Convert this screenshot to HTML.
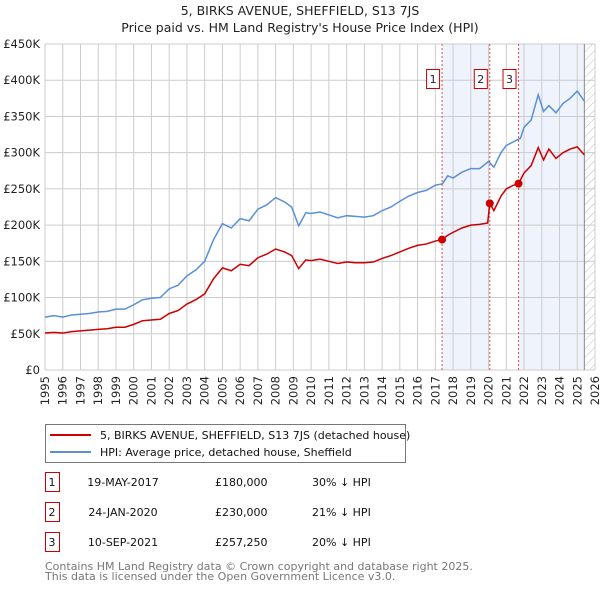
<!DOCTYPE html>
<html><head><meta charset="utf-8"><style>
body{margin:0;background:#fff;font-family:"DejaVu Sans","Liberation Sans",sans-serif;}
svg text{font-family:"DejaVu Sans","Liberation Sans",sans-serif;}
</style></head><body>
<svg id="chart" width="600" height="590" xmlns="http://www.w3.org/2000/svg">
<defs><pattern id="hatch" patternUnits="userSpaceOnUse" width="6" height="6" patternTransform="rotate(45)"><line x1="0" y1="0" x2="0" y2="6" stroke="#bbb" stroke-width="1"/></pattern></defs>
<text x="300" y="15" text-anchor="middle" font-size="12.5" fill="#222">5, BIRKS AVENUE, SHEFFIELD, S13 7JS</text>
<text x="300" y="32" text-anchor="middle" font-size="12.5" fill="#222">Price paid vs. HM Land Registry's House Price Index (HPI)</text>
<g id="grid"></g><g id="series"></g><g id="axes"></g>
<g>
<rect x="45.5" y="424.5" width="360" height="38" fill="#fff" stroke="#777"/>
<line x1="50" y1="435" x2="91" y2="435" stroke="#cc0000" stroke-width="2"/>
<text x="100" y="439" font-size="11" fill="#111">5, BIRKS AVENUE, SHEFFIELD, S13 7JS (detached house)</text>
<line x1="50" y1="452" x2="91" y2="452" stroke="#5b8fd6" stroke-width="2"/>
<text x="100" y="456" font-size="11" fill="#111">HPI: Average price, detached house, Sheffield</text>
</g>
<g id="table" font-size="11" fill="#111"></g>
<text x="45" y="570" font-size="11" fill="#777">Contains HM Land Registry data © Crown copyright and database right 2025.</text>
<text x="45" y="580" font-size="11" fill="#777">This data is licensed under the Open Government Licence v3.0.</text>
</svg>
<script>
const hpiYears=[1995,1995.5,1996,1996.5,1997,1997.5,1998,1998.5,1999,1999.5,2000,2000.5,2001,2001.5,2002,2002.5,2003,2003.5,2004,2004.5,2005,2005.5,2006,2006.5,2007,2007.5,2008,2008.5,2008.9,2009.3,2009.7,2010,2010.5,2011,2011.5,2012,2012.5,2013,2013.5,2014,2014.5,2015,2015.5,2016,2016.5,2017,2017.4,2017.7,2018,2018.5,2019,2019.5,2020,2020.3,2020.7,2021,2021.4,2021.8,2022,2022.4,2022.8,2023.1,2023.4,2023.8,2024.2,2024.6,2025,2025.4];
const hpiValues=[73000,75000,73000,76000,77000,78000,80000,81000,84000,84000,90000,97000,99000,100000,112000,117000,130000,138000,150000,180000,202000,196000,209000,206000,222000,228000,238000,232000,225000,199000,217000,216000,218000,214000,210000,213000,212000,211000,213000,220000,225000,233000,240000,245000,248000,255000,257000,268000,265000,273000,278000,278000,288000,280000,300000,310000,315000,320000,335000,345000,380000,357000,365000,355000,368000,375000,385000,371000];
const ppYears=[1995,1995.5,1996,1996.5,1997,1997.5,1998,1998.5,1999,1999.5,2000,2000.5,2001,2001.5,2002,2002.5,2003,2003.5,2004,2004.5,2005,2005.5,2006,2006.5,2007,2007.5,2008,2008.5,2008.9,2009.3,2009.7,2010,2010.5,2011,2011.5,2012,2012.5,2013,2013.5,2014,2014.5,2015,2015.5,2016,2016.5,2017,2017.38,2017.7,2018,2018.5,2019,2019.5,2019.95,2020.07,2020.3,2020.7,2021,2021.4,2021.69,2022,2022.4,2022.8,2023.1,2023.4,2023.8,2024.2,2024.6,2025,2025.4];
const ppValues=[51000,52000,51000,53000,54000,55000,56000,57000,59000,59000,63000,68000,69000,70000,78000,82000,91000,97000,105000,126000,141000,137000,146000,144000,155000,160000,167000,163000,158000,140000,152000,151000,153000,150000,147000,149000,148000,148000,149000,154000,158000,163000,168000,172000,174000,178000,180000,186000,190000,196000,200000,201000,203000,230000,220000,240000,250000,255000,257250,272000,282000,307000,290000,305000,292000,300000,305000,308000,297000];
const saleYears=[2017.38,2020.07,2021.69];
const saleValues=[180000,230000,257250];
const saleLabels=["1","2","3"];
const saleDates=["19-MAY-2017","24-JAN-2020","10-SEP-2021"];
const salePrices=["£180,000","£230,000","£257,250"];
const saleDiffs=["30% ↓ HPI","21% ↓ HPI","20% ↓ HPI"];
const yTicks=[0,50000,100000,150000,200000,250000,300000,350000,400000,450000];
const yTickLabels=["£0","£50K","£100K","£150K","£200K","£250K","£300K","£350K","£400K","£450K"];
const xTicks=[1995,1996,1997,1998,1999,2000,2001,2002,2003,2004,2005,2006,2007,2008,2009,2010,2011,2012,2013,2014,2015,2016,2017,2018,2019,2020,2021,2022,2023,2024,2025,2026];

const NS="http://www.w3.org/2000/svg";
const X0=45,X1=595,Y0=370,Y1=44;
const xs=y=>X0+(y-1995)/(2026-1995)*(X1-X0);
const ys=v=>Y0-v/450000*(Y0-Y1);
function mk(tag,attrs,parent){const e=document.createElementNS(NS,tag);for(const k in attrs)e.setAttribute(k,attrs[k]);parent.appendChild(e);return e;}
const grid=document.getElementById('grid'),ser=document.getElementById('series'),axes=document.getElementById('axes'),tbl=document.getElementById('table');
let r=mk('rect',{x:X0,y:Y1,width:X1-X0,height:Y0-Y1,fill:'#fff'},grid);


let s1=mk('rect',{x:xs(saleYears[0]),y:Y1,width:xs(2020.07)-xs(saleYears[0]),height:Y0-Y1,fill:'#eef3fc'},grid);


let s3=mk('rect',{x:xs(saleYears[2]),y:Y1,width:xs(2025.4)-xs(saleYears[2]),height:Y0-Y1,fill:'#eef3fc'},grid);


let ht=mk('rect',{x:xs(2025.4),y:Y1,width:X1-xs(2025.4),height:Y0-Y1,fill:'url(#hatch)'},grid);


xTicks.forEach(t=>{const l=mk('line',{x1:xs(t),x2:xs(t),y1:Y1,y2:Y0,stroke:'#cccccc','stroke-width':1},grid);


const tx=mk('text',{x:0,y:0,'font-size':11.5,fill:'#222','text-anchor':'end',transform:`translate(${xs(t)+4},376) rotate(-90)`},axes);tx.textContent=t;

});
yTicks.forEach((t,i)=>{const l=mk('line',{x1:X0,x2:X1,y1:ys(t),y2:ys(t),stroke:'#cccccc','stroke-width':1},grid);


const tx=mk('text',{x:40,y:ys(t)+4,'font-size':11.5,fill:'#222','text-anchor':'end'},axes);tx.textContent=yTickLabels[i];

});
let ed=mk('line',{x1:xs(2025.4),x2:xs(2025.4),y1:Y1,y2:Y0,stroke:'#888','stroke-width':1},grid);


saleYears.forEach((y,i)=>{const l=mk('line',{x1:xs(y),x2:xs(y),y1:Y1,y2:Y0,stroke:'#e05050','stroke-width':1,'stroke-dasharray':'2,2'},grid);


const b=mk('rect',{x:xs(y)-15.5,y:69.5,width:13,height:19,fill:'#fff',stroke:'#cc0000'},ser);


const t=mk('text',{x:xs(y)-9,y:83,'font-size':11,'text-anchor':'middle',fill:'#222'},ser);t.textContent=saleLabels[i];

});
const hp=mk('polyline',{points:hpiYears.map((y,i)=>xs(y)+','+ys(hpiValues[i])).join(' '),fill:'none',stroke:'#5b8fd6','stroke-width':1.5},ser);


const pp=mk('polyline',{points:ppYears.map((y,i)=>xs(y)+','+ys(ppValues[i])).join(' '),fill:'none',stroke:'#cc0000','stroke-width':1.5},ser);


saleYears.forEach((y,i)=>{const c=mk('circle',{cx:xs(y),cy:ys(saleValues[i]),r:4,fill:'#cc0000'},ser);


const ry=[482,512,542][i];
const b=mk('rect',{x:45.5,y:ry-9.5,width:14,height:19,fill:'#fff',stroke:'#cc0000'},tbl);


const cells=[[52,saleLabels[i],'middle'],[123,saleDates[i],'middle'],[215,salePrices[i],'start'],[312,saleDiffs[i],'start']];
cells.forEach(c=>{const t=mk('text',{x:c[0],y:ry+4,'text-anchor':c[2]},tbl);t.textContent=c[1];

});});
</script>
</body></html>
